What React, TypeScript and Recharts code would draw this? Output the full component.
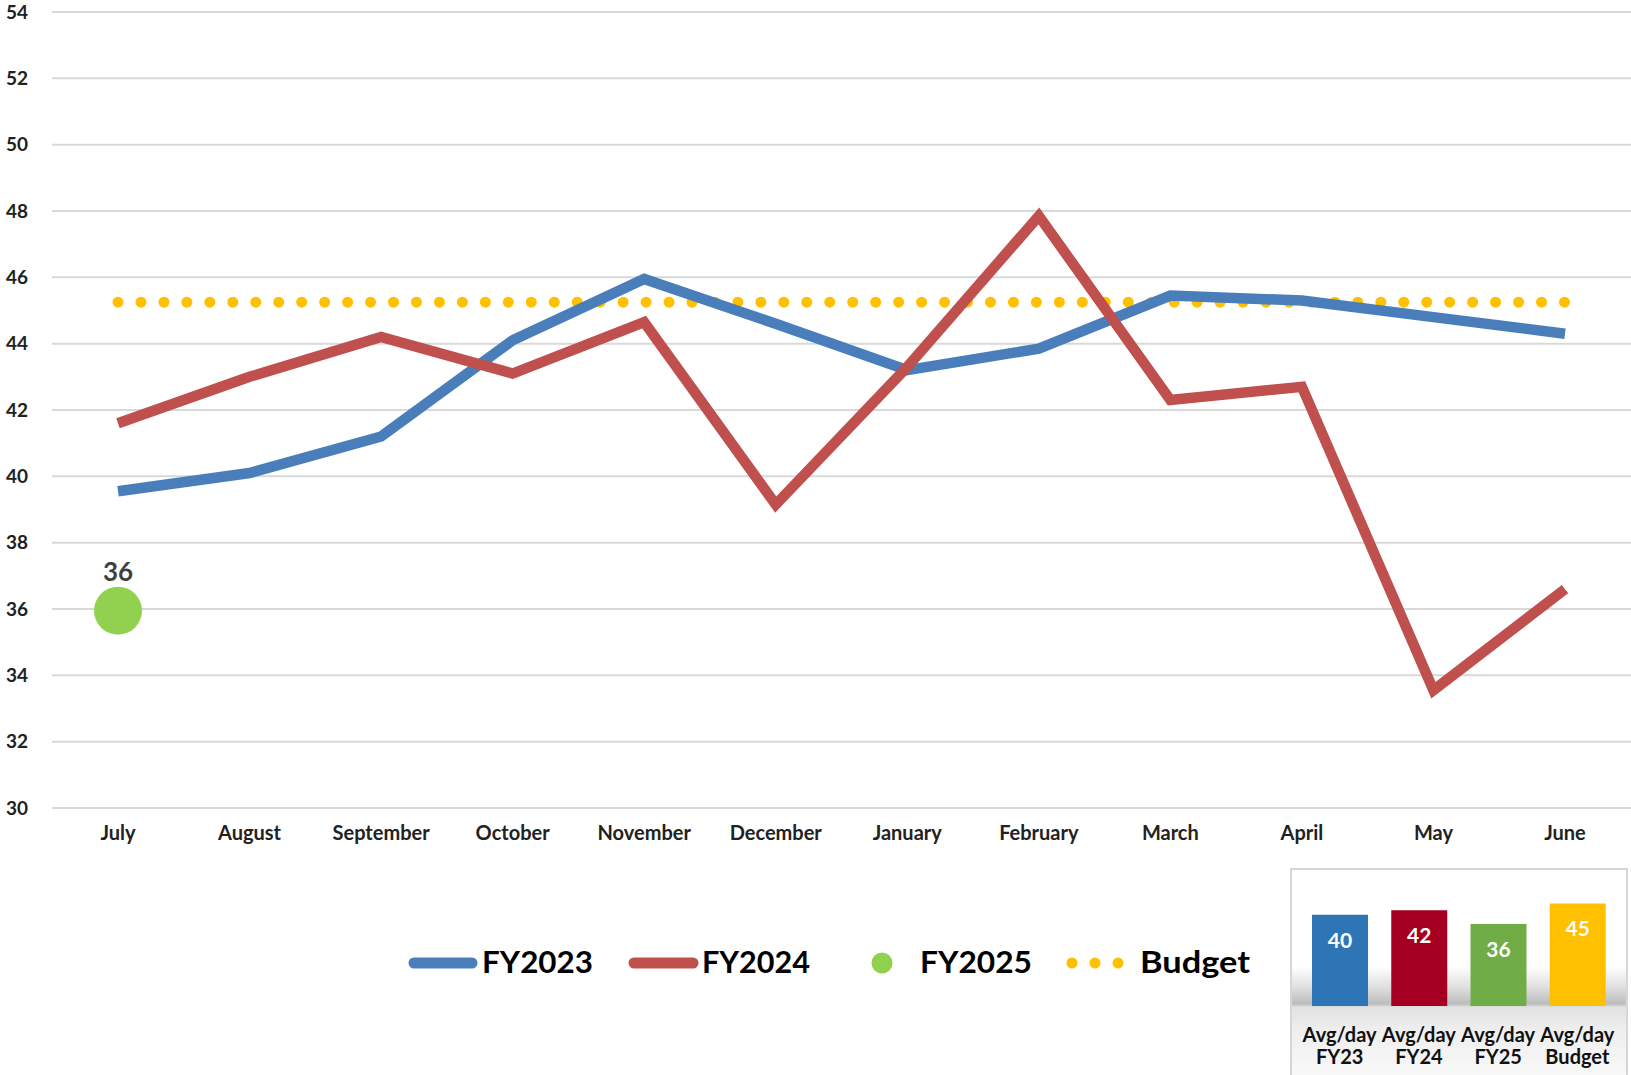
import { Bar, BarChart, CartesianGrid, Cell, ComposedChart, LabelList, Line, XAxis, YAxis } from "recharts";

const months = ["July", "August", "September", "October", "November", "December", "January", "February", "March", "April", "May", "June"];
const fy2023 = [39.55, 40.1, 41.2, 44.1, 45.95, 44.6, 43.2, 43.85, 45.45, 45.3, 44.8, 44.3];
const fy2024 = [41.6, 43.0, 44.2, 43.1, 44.65, 39.15, 43.3, 47.85, 42.3, 42.7, 33.55, 36.6];
const fy2025 = [35.95, null, null, null, null, null, null, null, null, null, null, null];
const budget = [45.25, 45.25, 45.25, 45.25, 45.25, 45.25, 45.25, 45.25, 45.25, 45.25, 45.25, 45.25];
const yTicks = [30, 32, 34, 36, 38, 40, 42, 44, 46, 48, 50, 52, 54];

const avgLabels = ["FY23", "FY24", "FY25", "Budget"];
const avgValues = [40, 42, 36, 45];
const avgColors = ["#2e75b6", "#a50021", "#70ad47", "#ffc000"];

const data = months.map((m, i) => ({ month: m, fy2023: fy2023[i], fy2024: fy2024[i], fy2025: fy2025[i], budget: budget[i] }));
const avgData = avgLabels.map((l, i) => ({ name: l, value: avgValues[i], color: avgColors[i] }));

const FONT = "Lato, 'Open Sans', sans-serif";

function GreenDot(props: any) {
  const { cx, cy, value, index } = props;
  if (value == null || cy == null) return <g key={`d-${index}`} />;
  return <circle key={`d-${index}`} cx={cx} cy={cy} r={24} fill="#92d050" />;
}

function GreenLabel(props: any) {
  const { x, y, value } = props;
  if (value == null) return null;
  return (
    <text x={x} y={y - 30} textAnchor="middle" fontFamily={FONT} fontWeight={700} fontSize={26} fill="#404040">
      {Math.round(value)}
    </text>
  );
}

function AvgTick(props: any) {
  const { x, y, payload } = props;
  return (
    <text x={x} textAnchor="middle" fontFamily={FONT} fontWeight={700} fontSize={20} fill="#111">
      <tspan x={x} y={y + 28}>Avg/day</tspan>
      <tspan x={x} y={y + 50}>{payload.value}</tspan>
    </text>
  );
}

function AvgLabel(props: any) {
  const { x, y, width, value } = props;
  return (
    <text x={x + width / 2} y={y + 33} textAnchor="middle" fontFamily={FONT} fontWeight={700} fontSize={21} fill="#fff">
      {value}
    </text>
  );
}

function LegendBlock() {
  const t = { fontFamily: FONT, fontWeight: 700, fontSize: 31, fill: "#000", lengthAdjust: "spacingAndGlyphs" as const };
  return (
    <svg width={1280} height={80} style={{ position: "absolute", left: 0, top: 925 }}>
      <line x1={414} x2={472} y1={38} y2={38} stroke="#4a7ebb" strokeWidth={11} strokeLinecap="round" />
      <text x={482} y={48} textLength={111} {...t}>FY2023</text>
      <line x1={634} x2={693} y1={38} y2={38} stroke="#c0504d" strokeWidth={11} strokeLinecap="round" />
      <text x={702} y={48} textLength={108} {...t}>FY2024</text>
      <circle cx={882} cy={38} r={10.5} fill="#92d050" />
      <text x={920} y={48} textLength={112} {...t}>FY2025</text>
      <line x1={1072} x2={1120} y1={38} y2={38} stroke="#ffc000" strokeWidth={11} strokeLinecap="round" strokeDasharray="0 23" />
      <text x={1140} y={48} textLength={110} {...t}>Budget</text>
    </svg>
  );
}

export default function App() {
  return (
    <div style={{ position: "relative", width: 1631, height: 1075, background: "#fff", overflow: "hidden" }}>
      <style>{"body{margin:0}"}</style>
      <ComposedChart width={1631} height={1075} data={data} margin={{ top: 12, right: 0, bottom: 227, left: 0 }}>
        <CartesianGrid stroke="#d9d9d9" strokeWidth={2} vertical={false} />
        <XAxis
          dataKey="month"
          padding={{ left: 66, right: 66 }}
          height={40}
          axisLine={{ stroke: "#d9d9d9", strokeWidth: 2 }}
          tickLine={false}
          tickSize={0}
          tickMargin={18}
          tick={{ fontFamily: FONT, fontWeight: 700, fontSize: 20, fill: "#222" }}
          interval={0}
        />
        <YAxis
          domain={[30, 54]}
          ticks={yTicks}
          width={52}
          axisLine={false}
          tickLine={false}
          tickSize={0}
          tickMargin={24}
          tick={{ fontFamily: FONT, fontWeight: 700, fontSize: 19, fill: "#222" }}
        />
        <Line dataKey="budget" stroke="#ffc000" strokeWidth={11} strokeLinecap="round" strokeDasharray="0 22.96" dot={false} isAnimationActive={false} />
        <Line dataKey="fy2023" stroke="#4a7ebb" strokeWidth={10.5} dot={false} isAnimationActive={false} />
        <Line dataKey="fy2024" stroke="#c0504d" strokeWidth={10.5} dot={false} isAnimationActive={false} />
        <Line dataKey="fy2025" stroke="none" dot={GreenDot} activeDot={false} isAnimationActive={false}>
          <LabelList dataKey="fy2025" content={GreenLabel} />
        </Line>
      </ComposedChart>
      <LegendBlock />
      <div
        style={{
          position: "absolute",
          left: 1290,
          top: 868,
          width: 338,
          height: 212,
          boxSizing: "border-box",
          border: "2px solid #d6d6d6",
          background: "linear-gradient(to bottom, #fff 0px, #fff 96px, #dedede 118px, #bcbcbc 134px, #e2e2e2 137px, #eeeeee 160px, #f8f8f8 205px)",
        }}
      >
        <BarChart width={334} height={205} data={avgData} margin={{ top: 22, right: 9, bottom: 0, left: 8 }}>
          <XAxis dataKey="name" axisLine={false} tickLine={false} height={69} interval={0} tick={AvgTick} />
          <YAxis hide domain={[0, 50]} />
          <Bar dataKey="value" barSize={56} isAnimationActive={false}>
            {avgData.map((d) => (
              <Cell key={d.name} fill={d.color} />
            ))}
            <LabelList dataKey="value" content={AvgLabel} />
          </Bar>
        </BarChart>
      </div>
    </div>
  );
}
